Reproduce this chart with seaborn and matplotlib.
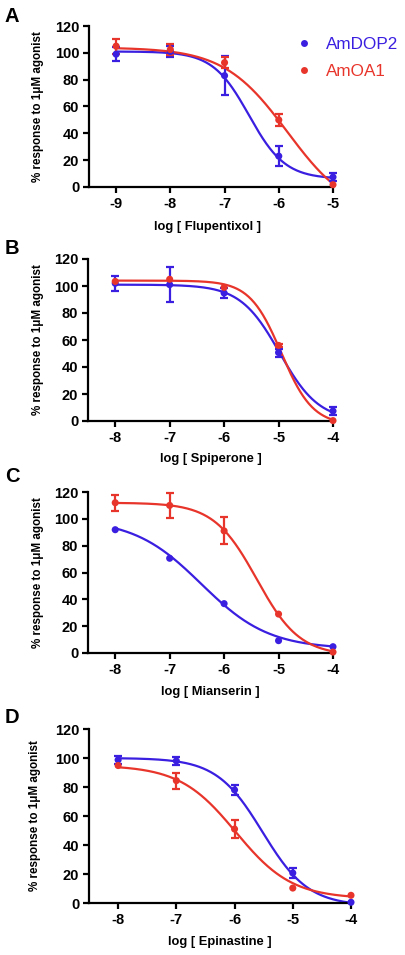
import numpy as np
import pandas as pd
import matplotlib
matplotlib.use("Agg")
import matplotlib.pyplot as plt
from matplotlib.lines import Line2D
import seaborn as sns

# ---------------- data ----------------
panel_letters = ["A", "B", "C", "D"]
drugs = ["Flupentixol", "Spiperone", "Mianserin", "Epinastine"]
receptors = ["AmDOP2", "AmOA1"]

log_conc_A = [-9, -8, -7, -6, -5]
log_conc_BCD = [-8, -7, -6, -5, -4]

dop2_A = [99, 101, 83, 23, 7.4]
dop2_A_err = [5, 4, 14.5, 7.5, 3]
oa1_A = [105, 102.5, 92.7, 50, 1.7]
oa1_A_err = [5.5, 4, 4, 4.5, 0]

dop2_B = [102, 101, 94.8, 50.7, 7.4]
dop2_B_err = [5.5, 13, 3.5, 3, 3]
oa1_B = [103.4, 105, 99, 56, 0.3]
oa1_B_err = [0, 0, 0, 1, 0]

dop2_C = [91.9, 70.6, 36.8, 9.2, 4.7]
dop2_C_err = [0, 0, 0, 0, 0]
oa1_C = [112, 110, 91, 29, 0.7]
oa1_C_err = [6, 9.5, 10, 0, 0]

dop2_D = [98.7, 98, 78, 20.7, 0.5]
dop2_D_err = [3, 2.5, 3.5, 3.5, 0]
oa1_D = [94.8, 84.4, 51, 10.3, 5.3]
oa1_D_err = [0, 5.5, 6.5, 0, 0]

# fitted sigmoid parameters: top, bottom, logIC50, Hill slope
dop2_fit_A = [101, 6, -6.55, 1.3]
oa1_fit_A = [104, -22, -5.84, 0.74]
dop2_fit_B = [101, 0, -4.98, 1.2]
oa1_fit_B = [104, -3, -4.95, 1.5]
dop2_fit_C = [100, 3, -6.42, 0.7]
oa1_fit_C = [112, -2, -5.4, 1.1]
dop2_fit_D = [100, -2, -5.52, 1.1]
oa1_fit_D = [95, 3, -5.98, 0.9]

y_ticks = [0, 20, 40, 60, 80, 100, 120]
y_label = "% response to 1\u03bcM agonist"

# ---------------- style ----------------
sns.set_theme(style="ticks")
plt.rcParams["font.family"] = ["Liberation Sans", "DejaVu Sans"]
plt.rcParams["axes.unicode_minus"] = False
for key in ["text.color", "axes.labelcolor", "xtick.color", "ytick.color", "axes.edgecolor"]:
    plt.rcParams[key] = "black"

BLUE = "#3A1FE0"
RED = "#E8352B"
palette = {"AmDOP2": BLUE, "AmOA1": RED}

W, H = 406, 955
fig = plt.figure(figsize=(W / 100, H / 100), dpi=100)

# axes boxes in pixels: left, top, right, bottom
boxes = [(89, 26, 333, 187), (88, 259, 333, 421), (88, 492, 333, 653), (89, 729, 351, 903)]
letter_pos = [(5, 7), (5, 239), (5, 467), (5, 708)]
xlabel_y = [227, 459, 692, 942]
ylabel_x = [38, 38, 38, 35]

panels = [
    (log_conc_A, dop2_A, dop2_A_err, oa1_A, oa1_A_err, dop2_fit_A, oa1_fit_A),
    (log_conc_BCD, dop2_B, dop2_B_err, oa1_B, oa1_B_err, dop2_fit_B, oa1_fit_B),
    (log_conc_BCD, dop2_C, dop2_C_err, oa1_C, oa1_C_err, dop2_fit_C, oa1_fit_C),
    (log_conc_BCD, dop2_D, dop2_D_err, oa1_D, oa1_D_err, dop2_fit_D, oa1_fit_D),
]


def sigmoid(x, p):
    top, bottom, c, h = p
    return bottom + (top - bottom) / (1 + 10 ** ((x - c) * h))


for i, (xs, d2, d2e, oa, oae, f2, fo) in enumerate(panels):
    l, t, r, b = boxes[i]
    ax = fig.add_axes([l / W, 1 - b / H, (r - l) / W, (b - t) / H])

    xx = np.linspace(xs[0], xs[-1], 300)
    curve_df = pd.concat([
        pd.DataFrame({"x": xx, "y": sigmoid(xx, f2), "receptor": "AmDOP2"}),
        pd.DataFrame({"x": xx, "y": sigmoid(xx, fo), "receptor": "AmOA1"}),
    ])
    pts_df = pd.concat([
        pd.DataFrame({"x": xs, "y": d2, "err": d2e, "receptor": "AmDOP2"}),
        pd.DataFrame({"x": xs, "y": oa, "err": oae, "receptor": "AmOA1"}),
    ])

    sns.lineplot(data=curve_df, x="x", y="y", hue="receptor", palette=palette,
                 linewidth=1.6, legend=False, ax=ax, clip_on=False)
    for rec in receptors:
        sub = pts_df[(pts_df.receptor == rec) & (pts_df.err > 0)]
        ax.errorbar(sub.x, sub.y, yerr=sub.err, fmt="none", ecolor=palette[rec],
                    elinewidth=1.6, capsize=3.2, capthick=1.6, clip_on=False, zorder=3)
    sns.scatterplot(data=pts_df, x="x", y="y", hue="receptor", palette=palette,
                    s=26, edgecolor="none", legend=False, ax=ax, clip_on=False, zorder=4)

    ax.set_xlim(xs[0] - 0.5, xs[-1])
    ax.set_ylim(0, 120)
    ax.set_xticks(xs)
    ax.set_xticklabels([str(v) for v in xs])
    ax.set_yticks(y_ticks)
    for sp in ["top", "right"]:
        ax.spines[sp].set_visible(False)
    for sp in ["left", "bottom"]:
        ax.spines[sp].set_linewidth(1.6)
        ax.spines[sp].set_color("black")
    ax.tick_params(axis="both", which="major", length=4.5, width=1.6, color="black",
                   labelcolor="black", labelsize=10.5, pad=2.5, direction="out")
    for lab in ax.get_xticklabels() + ax.get_yticklabels():
        lab.set_fontweight("bold")

    ax.set_xlabel(f"log [ {drugs[i]} ]", fontsize=9.3, fontweight="bold", color="black")
    ax.xaxis.label.set_va("center")
    ax.xaxis.set_label_coords((207 - l) / (r - l) if i == 0 else 0.5,
                              (b - xlabel_y[i]) / (b - t))

    ax.set_ylabel(y_label, fontsize=8.4, fontweight="bold", color="black")
    ax.yaxis.label.set_va("center")
    ax.yaxis.label.set_ha("center")
    ax.yaxis.set_label_coords((ylabel_x[i] - l) / (r - l), 0.5)

    lx, ly = letter_pos[i]
    fig.text(lx / W, 1 - ly / H, panel_letters[i], fontsize=14.5, fontweight="bold",
             va="top", ha="left", color="black")

    if i == 0:
        handles = [Line2D([], [], marker="o", linestyle="none", markersize=5,
                          markerfacecolor=palette[rc], markeredgecolor="none") for rc in receptors]
        leg = ax.legend(handles, receptors, loc="upper left",
                        bbox_to_anchor=(297 / W, 1 - 37 / H), bbox_transform=fig.transFigure,
                        frameon=False, fontsize=12.3, handlelength=0.8, handletextpad=0.9,
                        labelspacing=0.72, borderpad=0, borderaxespad=0)
        for txt, rc in zip(leg.get_texts(), receptors):
            txt.set_color(palette[rc])

fig.savefig("out.png", dpi=100)
